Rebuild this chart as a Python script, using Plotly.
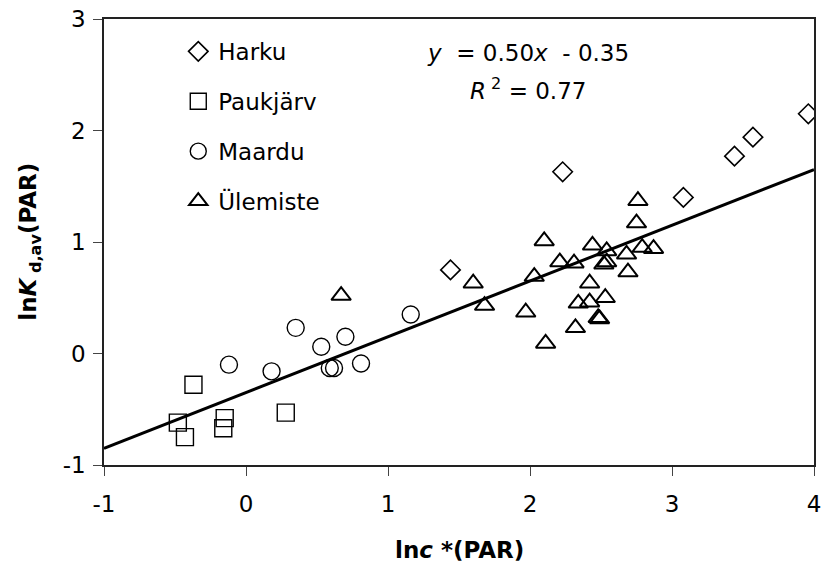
import plotly.graph_objects as go

# ---- data ----
harku_x = [1.44, 2.23, 3.08, 3.44, 3.57, 3.96]
harku_y = [0.75, 1.63, 1.40, 1.77, 1.94, 2.15]

pauk_x = [-0.37, -0.48, -0.43, -0.15, -0.16, 0.28]
pauk_y = [-0.28, -0.62, -0.75, -0.58, -0.67, -0.53]

maardu_x = [-0.12, 0.18, 0.35, 0.53, 0.59, 0.62, 0.70, 0.81, 1.16]
maardu_y = [-0.10, -0.16, 0.23, 0.06, -0.13, -0.13, 0.15, -0.09, 0.35]

ulem_x = [0.67, 1.60, 1.68, 1.97, 2.03, 2.10, 2.11, 2.21, 2.31, 2.32, 2.34, 2.42, 2.42,
          2.44, 2.48, 2.49, 2.53, 2.52, 2.54, 2.54, 2.68, 2.69, 2.75, 2.76, 2.79, 2.87]
ulem_y = [0.52, 0.63, 0.43, 0.37, 0.69, 1.01, 0.09, 0.82, 0.81, 0.23, 0.45, 0.63, 0.46,
          0.97, 0.32, 0.31, 0.50, 0.80, 0.92, 0.82, 0.89, 0.73, 1.17, 1.37, 0.95, 0.94]

fit_x = [-1, 4]
slope, intercept = 0.50, -0.35
fit_y = [slope * v + intercept for v in fit_x]

x_ticks = [-1, 0, 1, 2, 3, 4]
y_ticks = [-1, 0, 1, 2, 3]

FONT = "DejaVu Sans, Liberation Sans, Arial, sans-serif"
FS = 23

W, H = 827, 571
L, R, T, B = 104, 6, 14, 106
pw, ph = W - L - R, H - T - B


def px_x(p):
    return (p - L) / pw


def px_y(p):
    return 1 - (p - T) / ph


fig = go.Figure()

fig.add_trace(go.Scatter(x=fit_x, y=fit_y, mode="lines",
                         line=dict(color="black", width=3), showlegend=False))

fig.add_trace(go.Scatter(x=harku_x, y=harku_y, mode="markers", name="Harku",
                         legendgroup="a",
                         marker=dict(symbol="diamond-open", size=15, color="black",
                                     line=dict(width=1.6, color="black"))))
fig.add_trace(go.Scatter(x=pauk_x, y=pauk_y, mode="markers", name="Paukjärv",
                         legendgroup="b",
                         marker=dict(symbol="square-open", size=17, color="black",
                                     line=dict(width=1.4, color="black"))))
fig.add_trace(go.Scatter(x=maardu_x, y=maardu_y, mode="markers", name="Maardu",
                         legendgroup="c",
                         marker=dict(symbol="circle-open", size=17, color="black",
                                     line=dict(width=1.4, color="black"))))
fig.add_trace(go.Scatter(x=ulem_x, y=ulem_y, mode="markers", name="Ülemiste",
                         legendgroup="d",
                         marker=dict(symbol="triangle-up-open", size=17, color="black",
                                     line=dict(width=2, color="black"))))

# regression equation
fig.add_annotation(x=px_x(532), y=px_y(48), xref="paper", yref="paper", showarrow=False,
                   xanchor="center", yanchor="middle",
                   text="<i>y</i>  = 0.50<i>x</i>  - 0.35",
                   font=dict(family=FONT, size=FS, color="black"))
fig.add_annotation(x=px_x(532), y=px_y(85), xref="paper", yref="paper", showarrow=False,
                   xanchor="center", yanchor="middle",
                   text="<i>R</i><sup> 2</sup> = 0.77",
                   font=dict(family=FONT, size=FS, color="black"))

# axis titles
fig.add_annotation(x=0.5, y=px_y(551), xref="paper", yref="paper", showarrow=False,
                   xanchor="center", yanchor="middle",
                   text="<b>ln<i>c</i> *(PAR)</b>",
                   font=dict(family=FONT, size=FS, color="black"))
fig.add_annotation(x=px_x(29), y=0.5, xref="paper", yref="paper", showarrow=False,
                   xanchor="center", yanchor="middle", textangle=-90,
                   text="<b>ln<i>K</i><sub> d,av</sub>(PAR)</b>",
                   font=dict(family=FONT, size=FS, color="black"))

fig.update_layout(
    width=W, height=H, autosize=False,
    margin=dict(l=L, r=R, t=T, b=B),
    paper_bgcolor="white", plot_bgcolor="white",
    font=dict(family=FONT, size=FS, color="black"),
    legend=dict(x=px_x(179), y=px_y(25), xanchor="left", yanchor="top",
                bgcolor="rgba(0,0,0,0)", font=dict(family=FONT, size=FS),
                tracegroupgap=17, itemwidth=30, traceorder="grouped"),
    xaxis=dict(range=[-1, 4], tickvals=x_ticks, ticktext=[str(v) for v in x_ticks],
               showgrid=False, zeroline=False, showline=True, linecolor="#222",
               linewidth=1.5, mirror=True, ticks="outside", ticklen=9, tickwidth=1,
               tickcolor="#444", ticklabelstandoff=9,
               tickfont=dict(family=FONT, size=FS)),
    yaxis=dict(range=[-1, 3], tickvals=y_ticks, ticktext=[str(v) for v in y_ticks],
               showgrid=False, zeroline=False, showline=True, linecolor="#222",
               linewidth=1.5, mirror=True, ticks="outside", ticklen=9, tickwidth=1,
               tickcolor="#444", ticklabelstandoff=3,
               tickfont=dict(family=FONT, size=FS)),
)

fig.write_html("out.html")
